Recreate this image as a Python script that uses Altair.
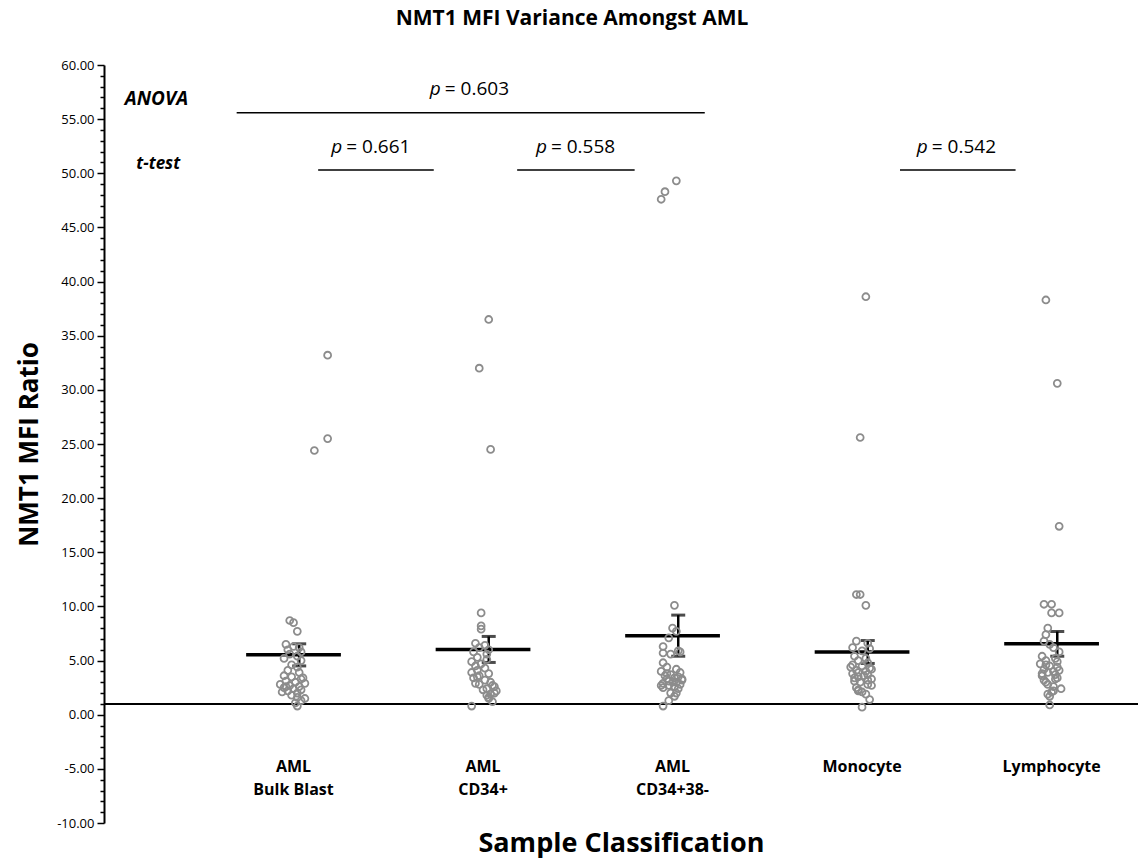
import altair as alt
import pandas as pd

FONT = "Open Sans"

categories = ["AML\nBulk Blast", "AML\nCD34+", "AML\nCD34+38-", "Monocyte", "Lymphocyte"]

bulk_vals = [33.2, 25.5, 24.4, 8.7, 8.5, 7.7, 6.5, 6.3, 6.2, 6.0, 5.8, 5.6, 5.4, 5.2, 5.0,
             4.6, 4.4, 4.1, 3.9, 3.6, 3.5, 3.3, 3.1, 3.0, 2.9, 2.8, 2.7, 2.6, 2.5, 2.4,
             2.3, 2.2, 2.0, 1.8, 1.6, 1.3, 1.1, 0.8, 2.1, 2.6, 3.4, 1.5]
bulk_jit = [0.18, 0.18, 0.11, -0.02, 0.0, 0.02, -0.04, 0.0, 0.03, -0.03, 0.04, -0.02, 0.02, -0.05,
            0.04, -0.01, 0.02, -0.03, 0.03, -0.05, -0.01, 0.04, -0.04, 0.01, 0.06, -0.07, -0.02,
            0.03, -0.05, 0.0, 0.04, -0.03, 0.02, -0.01, 0.02, 0.04, 0.01, 0.02, -0.06, -0.04, 0.05, 0.06]

cd34_vals = [36.5, 32.0, 24.5, 9.4, 8.2, 7.9, 6.6, 6.4, 6.2, 6.0, 5.8, 5.6, 5.3, 5.1, 4.9, 4.7,
             4.5, 4.3, 4.1, 3.9, 3.8, 3.6, 3.4, 3.2, 3.0, 2.8, 2.6, 2.4, 2.2, 1.9, 1.5, 2.9,
             0.8, 3.5, 2.7, 2.3, 2.0, 1.8, 1.6, 1.2]
cd34_jit = [0.03, -0.02, 0.04, -0.01, -0.01, -0.01, -0.04, 0.01, -0.02, 0.03, -0.05, 0.02, -0.03,
            0.02, -0.06, -0.01, -0.04, 0.01, -0.03, -0.06, 0.03, -0.02, -0.05, 0.01, 0.04, -0.02,
            0.06, 0.02, 0.07, 0.04, 0.03, -0.04, -0.06, -0.03, 0.05, 0.0, 0.06, 0.02, 0.03, 0.05]

cd3438_vals = [49.3, 48.3, 47.6, 10.1, 8.0, 7.7, 7.1, 6.3, 5.9, 5.8, 5.7, 5.6, 4.8, 4.4, 4.2,
               4.0, 3.9, 3.7, 3.6, 3.5, 3.4, 3.3, 3.2, 3.1, 3.0, 2.9, 2.8, 2.7, 2.6, 2.5, 2.0,
               1.7, 0.8, 3.8, 3.3, 3.0, 2.7, 2.4, 2.0, 1.3]
cd3438_jit = [0.02, -0.04, -0.06, 0.01, 0.0, 0.02, -0.02, -0.05, 0.03, 0.04, -0.05, -0.01, -0.05,
              -0.03, 0.02, -0.06, 0.04, -0.01, -0.04, 0.03, 0.01, -0.03, 0.05, -0.02, 0.02, -0.05,
              0.04, -0.02, 0.01, -0.05, -0.01, 0.01, -0.05, -0.03, 0.05, 0.0, -0.06, 0.03, 0.02, -0.02]

mono_vals = [38.6, 25.6, 11.1, 11.1, 10.1, 6.8, 6.6, 6.2, 6.1, 5.9, 5.4, 5.2, 5.0, 4.8, 4.6,
             4.5, 4.3, 4.1, 4.0, 3.8, 3.7, 3.5, 3.3, 3.1, 2.8, 2.3, 2.1, 1.4, 0.7, 4.4, 4.2,
             3.9, 3.6, 3.4, 3.2, 3.0, 2.7, 2.5, 1.9, 2.2]
mono_jit = [0.02, -0.01, -0.03, -0.01, 0.02, -0.03, 0.03, -0.05, 0.04, 0.0, -0.04, 0.02, -0.02,
            0.03, -0.05, 0.0, 0.04, -0.03, 0.02, -0.05, 0.03, -0.02, 0.05, -0.04, 0.03, -0.02,
            0.0, 0.04, 0.0, -0.06, 0.05, -0.02, 0.01, -0.04, 0.03, -0.01, 0.05, -0.03, 0.02, -0.02]

lymph_vals = [38.3, 30.6, 17.4, 10.2, 10.2, 9.4, 9.4, 8.0, 7.4, 6.8, 6.5, 6.2, 5.8, 5.4, 5.2,
              5.0, 4.9, 4.7, 4.5, 4.4, 4.2, 4.0, 3.9, 3.7, 3.6, 3.4, 3.2, 2.8, 2.6, 2.1, 1.7,
              0.9, 4.6, 4.1, 3.8, 3.3, 3.0, 2.4, 2.2, 1.9]
lymph_jit = [-0.03, 0.03, 0.04, -0.04, 0.0, 0.0, 0.04, -0.02, -0.03, -0.04, -0.01, 0.01, 0.04,
             -0.05, 0.02, -0.03, 0.03, -0.06, -0.01, 0.03, -0.04, 0.01, -0.02, 0.02, -0.05, 0.03,
             -0.04, -0.02, 0.01, 0.0, -0.01, -0.01, -0.03, 0.04, -0.05, 0.02, -0.03, 0.05, 0.01, -0.02]

# significance annotations
bracket_x0 = [0.70, 1.13, 2.18, 4.20]
bracket_x1 = [3.17, 1.74, 2.80, 4.81]
bracket_y = [55.6, 50.3, 50.3, 50.3]
pval_x = [1.93, 1.41, 2.49, 4.50]
pval_y = [57.8, 52.4, 52.4, 52.4]
pval_text = ["= 0.603", "= 0.661", "= 0.558", "= 0.542"]
test_names = ["ANOVA", "t-test"]
test_x = [0.11, 0.17]
test_y = [56.9, 50.9]
test_size = [19, 17]
ref_line = 1.0

rows = []
for i, (vals, jit) in enumerate([(bulk_vals, bulk_jit), (cd34_vals, cd34_jit),
                                 (cd3438_vals, cd3438_jit), (mono_vals, mono_jit),
                                 (lymph_vals, lymph_jit)]):
    for v, j in zip(vals, jit):
        rows.append({"idx": i + 1, "v": v, "jit": j})
df = pd.DataFrame(rows)

xscale = alt.Scale(domain=[0, 5.456], nice=False, zero=False)
yscale = alt.Scale(domain=[-10, 60], nice=False, zero=False)

xaxis = alt.Axis(title="Sample Classification", labels=False, ticks=False, domain=False,
                 grid=False, titleFont=FONT, titleFontSize=27, titleFontWeight="bold",
                 titleColor="black", titlePadding=7)
yaxis = alt.Axis(title="NMT1 MFI Ratio", values=list(range(-10, 61)),
                 labelExpr="datum.value % 5 === 0 ? replace(format(datum.value, '.2f'), '\u2212', '-') : ''",
                 labelOverlap=False, labelFlush=False, grid=False,
                 tickSize={"condition": {"test": "datum.value % 5 === 0", "value": 7}, "value": 4},
                 tickColor="black", tickWidth=1.5, domainColor="black", domainWidth=2,
                 labelFont=FONT, labelFontSize=13, labelColor="black", labelPadding=3,
                 titleFont=FONT, titleFontSize=26, titleFontWeight="bold", titleColor="black",
                 titlePadding=14)


def Y(field):
    return alt.Y(field, scale=yscale, axis=yaxis)


def X(field):
    return alt.X(field, scale=xscale, axis=xaxis)


base = alt.Chart(df)

refrule = base.mark_rule(color="black", strokeWidth=1.5).encode(
    y=alt.datum(ref_line, scale=yscale, axis=yaxis))

stats = base.transform_aggregate(
    mean="mean(v)", se="stderr(v)", groupby=["idx"]
).transform_calculate(
    x0="datum.idx - 0.25", x1="datum.idx + 0.25", xe="datum.idx + 0.03",
    lo="datum.mean - datum.se", hi="datum.mean + datum.se"
)

mean_bar = stats.mark_rule(color="black", strokeWidth=3.5).encode(
    x=X("x0:Q"), x2="x1:Q", y=Y("mean:Q"))
err_bar = stats.mark_rule(color="black", strokeWidth=2.5).encode(
    x=X("xe:Q"), y=Y("lo:Q"), y2="hi:Q")
err_hi = stats.mark_tick(color="black", orient="horizontal", size=14, thickness=3).encode(
    x=X("xe:Q"), y=Y("hi:Q"))
err_lo = stats.mark_tick(color="black", orient="horizontal", size=14, thickness=3).encode(
    x=X("xe:Q"), y=Y("lo:Q"))

points = base.transform_calculate(xp="datum.idx + datum.jit").mark_point(
    shape="circle", filled=False, color="#8c8c8c", size=48, strokeWidth=1.8, opacity=1
).encode(x=X("xp:Q"), y=Y("v:Q"))

cat_df = pd.DataFrame({"idx": list(range(1, 6)), "label": categories})
cat_text = alt.Chart(cat_df).mark_text(
    lineBreak="\n", baseline="top", align="center", font=FONT, fontSize=16,
    fontWeight="bold", lineHeight=23, color="black"
).encode(x=X("idx:Q"), y=alt.value(694), text="label:N")

br_df = pd.DataFrame({"x0": bracket_x0, "x1": bracket_x1, "y": bracket_y})
brackets = alt.Chart(br_df).mark_rule(color="black", strokeWidth=1.5).encode(
    x=X("x0:Q"), x2="x1:Q", y=Y("y:Q"))

pv_df = pd.DataFrame({"x": pval_x, "y": pval_y, "t": pval_text})
p_italic = alt.Chart(pv_df).mark_text(
    text="p", font=FONT, fontSize=19, fontStyle="italic", align="left", dx=-40,
    baseline="middle", color="black"
).encode(x=X("x:Q"), y=Y("y:Q"))
p_rest = alt.Chart(pv_df).mark_text(
    font=FONT, fontSize=19, align="left", dx=-25, baseline="middle", color="black"
).encode(x=X("x:Q"), y=Y("y:Q"), text="t:N")

tn_df = pd.DataFrame({"x": test_x, "y": test_y, "t": test_names, "s": test_size})
test_text = alt.Chart(tn_df).mark_text(
    font=FONT, fontStyle="italic", fontWeight="bold", align="left", baseline="middle",
    color="black"
).encode(x=X("x:Q"), y=Y("y:Q"), text="t:N",
         size=alt.Size("s:Q", scale=None, legend=None))

chart = alt.layer(
    refrule, mean_bar, err_bar, err_hi, err_lo, points, cat_text, brackets,
    p_italic, p_rest, test_text
).properties(
    width=1034, height=758,
    title=alt.Title("NMT1 MFI Variance Amongst AML", font=FONT, fontSize=21,
                    fontWeight="bold", color="black", anchor="middle", dx=-49,
                    offset=9, baseline="bottom"),
    autosize=alt.AutoSizeParams(type="none"),
    padding={"left": 104, "top": 65, "right": 0, "bottom": 36},
).configure_view(stroke=None).configure_axisY(labelOverlap=False)

chart.save("out.html", embed_options={"renderer": "svg", "actions": False})
